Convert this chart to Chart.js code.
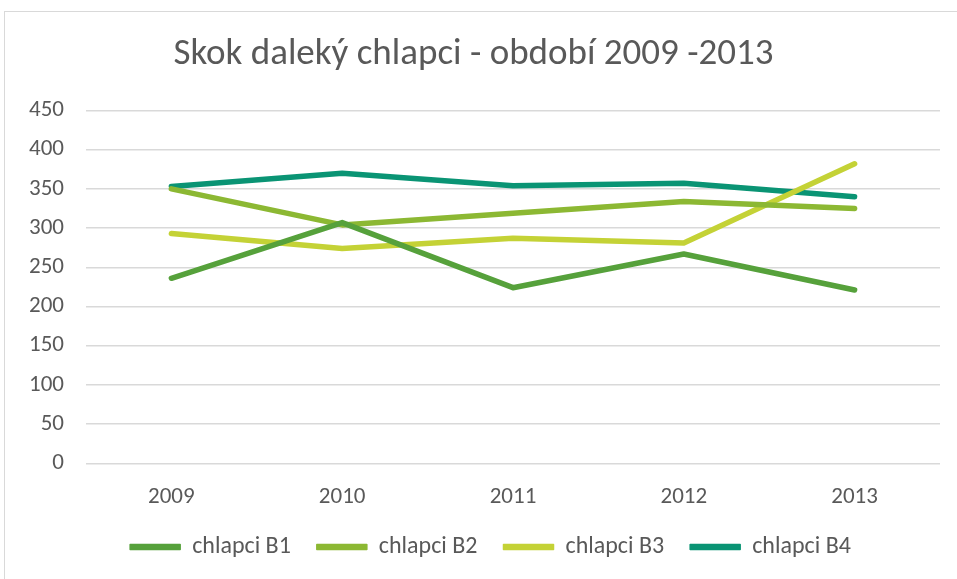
<!DOCTYPE html>
<html>
<head>
<meta charset="utf-8">
<script src="https://cdn.jsdelivr.net/npm/chart.js@4.4.0/dist/chart.umd.min.js"></script>
<style>
  html, body { margin: 0; padding: 0; background: #fff; }
  #wrap { position: relative; width: 957px; height: 579px; overflow: hidden; }
  #frame { position: absolute; left: 4px; top: 11px; width: 960px; height: 600px; border: 1px solid #d9d9d9; box-sizing: border-box; }
  canvas { position: absolute; left: 0; top: 0; }
</style>
</head>
<body>
<div id="wrap">
  <div id="frame"></div>
  <canvas id="c" width="957" height="579"></canvas>
</div>
<script>
const titleText = "Skok daleký chlapci - období 2009 -2013";
const years = ["2009", "2010", "2011", "2012", "2013"];
const seriesNames = ["chlapci B1", "chlapci B2", "chlapci B3", "chlapci B4"];
const b1 = [236, 307, 224, 267, 221];
const b2 = [350, 304, 319, 334, 325];
const b3 = [293, 274, 287, 281, 382];
const b4 = [353, 370, 354, 357, 340];
const colors = ["#56a13b", "#8cb833", "#c4d236", "#0a9474"];

const FONT = "Carlito, Calibri, Lato, 'Open Sans', sans-serif";
const TXT = "#595959";

Chart.defaults.font.family = FONT;
Chart.defaults.font.size = 23;
Chart.defaults.color = TXT;

const datasets = [b1, b2, b3, b4].map((d, i) => ({
  label: seriesNames[i],
  data: d,
  borderColor: colors[i],
  backgroundColor: colors[i],
  borderWidth: 5.5,
  pointRadius: 0,
  pointHoverRadius: 0,
  tension: 0,
  borderCapStyle: 'round',
  borderJoinStyle: 'round',
  fill: false
}));

// legend: less vertical room above the row, items drawn slightly shifted
const LEG_SHRINK = 22, LEG_DX = 17;
const legendGap = {
  id: 'legendGap',
  beforeUpdate(chart) {
    const lg = chart.legend;
    if (lg && !lg._patched) {
      const origFit = lg.fit;
      lg.fit = function () { origFit.call(this); this.height -= LEG_SHRINK; };
      lg.draw = function () {
        if (!this.options.display) return;
        const ctx = this.ctx;
        ctx.save();
        ctx.translate(LEG_DX, -LEG_SHRINK);
        this._draw();
        ctx.restore();
      };
      lg._patched = true;
    }
  }
};

new Chart(document.getElementById('c'), {
  type: 'line',
  data: { labels: years, datasets: datasets },
  plugins: [legendGap],
  options: {
    responsive: false,
    animation: false,
    devicePixelRatio: 1,
    layout: { padding: { left: 7, right: 17, top: 27, bottom: 10 } },
    plugins: {
      title: {
        display: true,
        text: titleText,
        color: TXT,
        font: { family: FONT, size: 37, weight: 'normal' },
        padding: { top: 6, bottom: 33 }
      },
      legend: {
        position: 'bottom',
        labels: {
          color: TXT,
          font: { family: FONT, size: 24 },
          boxWidth: 50,
          boxHeight: 5,
          padding: 26,
          generateLabels: (chart) => {
            const items = Chart.defaults.plugins.legend.labels.generateLabels(chart);
            items.forEach(it => { it.lineWidth = 1.5; it.lineCap = 'round'; });
            return items;
          }
        }
      },
      tooltip: { enabled: false }
    },
    scales: {
      x: {
        offset: true,
        grid: { display: false, drawTicks: false },
        border: { display: false },
        ticks: { color: TXT, font: { family: FONT, size: 23 }, padding: 20 }
      },
      y: {
        min: 0, max: 450,
        ticks: { stepSize: 50, color: TXT, font: { family: FONT, size: 23 }, padding: 22 },
        grid: { color: '#d9d9d9', lineWidth: 1.5, drawTicks: false },
        border: { display: false }
      }
    }
  }
});
</script>
</body>
</html>
